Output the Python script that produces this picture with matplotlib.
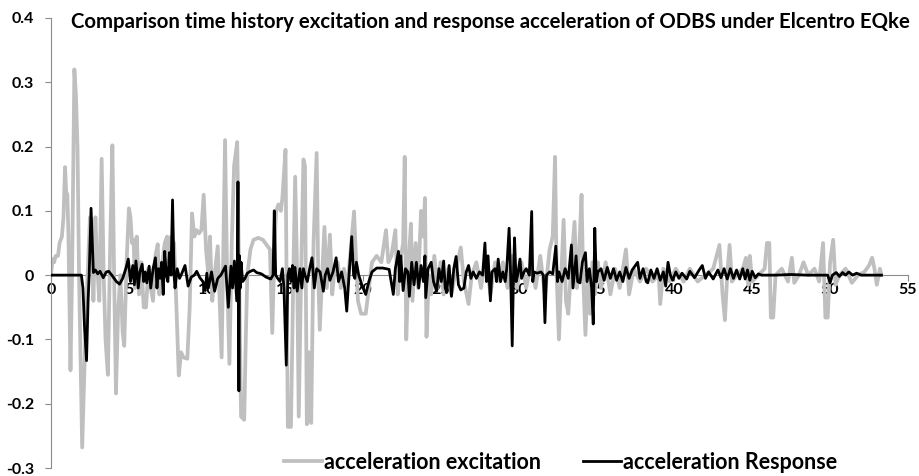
import matplotlib
matplotlib.use("Agg")
import matplotlib.pyplot as plt

# Ground excitation acceleration (g) at the base, El Centro record
exc_t = [0.0, 0.1, 0.2, 0.3, 0.45, 0.55, 0.7, 0.8, 0.9, 0.97, 1.05, 1.12, 1.25, 1.35, 1.5, 1.6, 1.7, 1.8,
         2.0, 2.2, 2.35, 2.5, 2.62, 2.72, 2.85, 2.95, 3.1, 3.25, 3.38, 3.5, 3.65, 3.8, 3.94, 4.05, 4.17,
         4.3, 4.45, 4.6, 4.7, 4.85, 5.0, 5.1, 5.2, 5.3, 5.4, 5.5, 5.65, 5.8, 5.95, 6.1, 6.25, 6.4, 6.55,
         6.7, 6.85, 6.95, 7.1, 7.3, 7.45, 7.55, 7.7, 7.9, 8.05, 8.2, 8.35, 8.5, 8.75, 8.9, 9.05, 9.2,
         9.35, 9.5, 9.65, 9.8, 9.95, 10.1, 10.2, 10.35, 10.5, 10.7, 10.95, 11.17, 11.3, 11.45, 11.6,
         11.75, 11.95, 12.1, 12.2, 12.4, 12.5, 12.6, 12.8, 13.0, 13.3, 13.6, 13.9, 14.05, 14.2, 14.35,
         14.45, 14.6, 14.75, 14.85, 15.05, 15.2, 15.4, 15.55, 15.67, 15.8, 15.9, 16.05, 16.2, 16.3,
         16.42, 16.55, 16.7, 16.85, 17.05, 17.15, 17.25, 17.4, 17.55, 17.7, 17.9, 18.05, 18.2, 18.4,
         18.6, 18.8, 19.0, 19.2, 19.45, 19.55, 19.7, 19.9, 20.2, 20.4, 20.6, 20.9, 21.2, 21.5, 21.65,
         21.85, 22.1, 22.25, 22.4, 22.6, 22.7, 22.8, 22.95, 23.1, 23.2, 23.4, 23.55, 23.75, 23.9, 24.0,
         24.1, 24.25, 24.4, 24.6, 24.8, 25.0, 25.2, 25.5, 25.7, 26.0, 26.3, 26.5, 26.8, 27.0, 27.3,
         27.6, 27.9, 28.2, 28.5, 28.8, 29.0, 29.3, 29.6, 29.9, 30.2, 30.5, 30.8, 31.1, 31.4, 31.7,
         32.0, 32.2, 32.35, 32.45, 32.6, 32.75, 32.9, 33.05, 33.2, 33.4, 33.6, 33.75, 33.9, 34.05,
         34.15, 34.3, 34.45, 34.6, 34.75, 34.9, 35.1, 35.3, 35.6, 35.9, 36.2, 36.5, 36.9, 37.1, 37.4,
         37.8, 38.2, 38.6, 39.0, 39.1, 39.3, 39.7, 40.1, 40.6, 41.0, 41.5, 42.0, 42.5, 42.9, 43.1,
         43.25, 43.4, 43.55, 43.7, 44.0, 44.4, 44.6, 44.75, 44.85, 45.0, 45.4, 45.8, 45.95, 46.1,
         46.2, 46.35, 46.5, 46.9, 47.3, 47.55, 47.7, 48.0, 48.3, 48.6, 49.0, 49.3, 49.55, 49.7, 49.85,
         50.0, 50.2, 50.35, 50.6, 51.0, 51.4, 51.8, 52.2, 52.5, 52.7, 52.85, 53.0, 53.2, 53.3]
exc_a = [0.0, 0.025, 0.02, 0.03, 0.03, 0.05, 0.06, 0.09, 0.168, 0.13, 0.125, 0.06, -0.148, 0.0, 0.32,
         0.28, 0.2, 0.0, -0.268, -0.1, 0.0, 0.09, 0.08, -0.04, 0.09, 0.02, -0.04, 0.181, 0.0, -0.1,
         -0.155, 0.05, 0.202, 0.0, -0.184, -0.06, 0.0, -0.09, -0.11, 0.02, 0.104, 0.09, 0.05, 0.055,
         -0.02, 0.06, -0.03, 0.02, -0.05, -0.05, 0.01, -0.02, -0.04, 0.03, 0.048, -0.03, 0.01, 0.05,
         0.06, 0.02, 0.06, 0.05, -0.05, -0.156, -0.12, -0.128, -0.13, -0.05, 0.096, 0.06, 0.07, 0.065,
         0.07, 0.125, 0.04, 0.0, 0.06, -0.04, 0.0, 0.045, -0.128, 0.21, 0.0, -0.138, 0.05, 0.17, 0.207,
         -0.05, -0.22, -0.225, -0.1, 0.0, 0.04, 0.055, 0.058, 0.055, 0.045, 0.04, -0.09, 0.05, 0.1,
         0.11, 0.1, 0.12, 0.195, -0.236, -0.236, 0.0, 0.153, 0.0, -0.22, 0.0, 0.18, 0.17, -0.232,
         -0.12, -0.23, 0.05, 0.19, 0.0, -0.085, 0.0, 0.075, -0.02, 0.063, -0.03, 0.01, 0.02, -0.02,
         0.01, -0.02, 0.03, 0.099, 0.04, -0.04, -0.06, -0.06, -0.02, 0.02, 0.03, 0.02, 0.07, 0.02,
         0.03, 0.07, -0.03, 0.02, 0.05, 0.184, -0.1, 0.02, 0.08, -0.04, 0.05, -0.02, 0.1, 0.06, 0.12,
         -0.096, 0.0, -0.03, 0.03, -0.02, 0.02, -0.03, 0.01, -0.03, 0.01, 0.043, -0.01, -0.045, 0.0,
         0.02, -0.02, 0.03, -0.03, 0.02, -0.01, 0.02, -0.02, 0.03, -0.02, 0.02, -0.02, 0.02, -0.02,
         0.03, -0.03, 0.04, 0.06, 0.184, 0.0, -0.1, 0.0, 0.086, -0.04, -0.06, 0.02, 0.083, -0.02, 0.04,
         0.125, 0.0, -0.093, 0.0, -0.06, 0.02, -0.03, 0.02, -0.02, 0.02, -0.03, 0.01, -0.02, 0.04,
         -0.03, 0.01, -0.01, 0.01, -0.01, 0.0, -0.045, 0.01, -0.01, 0.01, -0.01, 0.01, -0.01, 0.0,
         0.01, 0.047, -0.03, -0.07, 0.0, 0.047, -0.01, 0.0, 0.01, 0.027, -0.015, 0.03, -0.01, 0.0,
         0.01, 0.05, 0.05, -0.066, -0.066, 0.0, 0.01, -0.01, 0.027, -0.012, 0.0, 0.02, 0.0, 0.01,
         -0.01, 0.05, -0.066, -0.066, 0.02, 0.055, -0.015, 0.0, 0.01, -0.012, 0.0, 0.005, 0.015,
         0.027, 0.01, -0.015, 0.01, 0.0]

# Roof response acceleration (g) of the structure
resp_t = [0.0, 1.95, 2.05, 2.15, 2.28, 2.38, 2.45, 2.57, 2.65, 2.72, 2.85, 3.0, 3.15, 3.35, 3.55, 3.7,
          3.9, 4.2, 4.4, 4.6, 4.8, 4.96, 5.1, 5.25, 5.35, 5.45, 5.6, 5.7, 5.85, 5.95, 6.05, 6.15, 6.3,
          6.4, 6.55, 6.7, 6.8, 6.9, 7.0, 7.1, 7.2, 7.3, 7.4, 7.5, 7.6, 7.7, 7.8, 7.9, 7.96, 8.1, 8.25,
          8.4, 8.6, 8.8, 9.0, 9.2, 9.35, 9.55, 9.75, 9.9, 10.0, 10.1, 10.3, 10.5, 10.7, 10.9, 11.2,
          11.38, 11.55, 11.65, 11.77, 11.92, 11.97, 12.0, 12.03, 12.06, 12.1, 12.15, 12.2, 12.3, 12.45,
          12.6, 12.8, 13.0, 13.2, 13.5, 13.8, 14.1, 14.25, 14.33, 14.42, 14.55, 14.7, 14.85, 14.95,
          15.1, 15.2, 15.3, 15.4, 15.5, 15.6, 15.66, 15.8, 15.98, 16.1, 16.2, 16.3, 16.45, 16.6,
          16.75, 16.9, 17.05, 17.27, 17.48, 17.6, 17.75, 17.9, 18.1, 18.3, 18.45, 18.65, 18.85, 18.98,
          19.1, 19.3, 19.42, 19.5, 19.6, 19.75, 19.95, 20.2, 20.4, 20.6, 20.9, 21.3, 21.7, 21.97,
          22.1, 22.3, 22.38, 22.45, 22.6, 22.75, 22.9, 23.0, 23.15, 23.3, 23.45, 23.6, 23.75, 23.9,
          24.0, 24.05, 24.2, 24.4, 24.55, 24.75, 24.9, 25.05, 25.2, 25.3, 25.4, 25.55, 25.7, 25.85,
          26.0, 26.15, 26.3, 26.5, 26.65, 26.8, 26.95, 27.1, 27.3, 27.5, 27.7, 27.85, 27.95, 28.05,
          28.2, 28.3, 28.5, 28.6, 28.7, 28.85, 29.0, 29.15, 29.25, 29.4, 29.5, 29.6, 29.68, 29.75,
          29.85, 29.95, 30.1, 30.2, 30.36, 30.5, 30.7, 30.85, 30.92, 31.0, 31.2, 31.45, 31.6, 31.7,
          31.8, 32.0, 32.2, 32.4, 32.5, 32.6, 32.8, 33.0, 33.2, 33.4, 33.5, 33.7, 33.8, 33.95, 34.1,
          34.3, 34.4, 34.55, 34.7, 34.8, 34.85, 34.9, 35.0, 35.1, 35.3, 35.5, 35.7, 35.9, 36.1, 36.3,
          36.5, 36.7, 36.9, 37.1, 37.3, 37.5, 37.65, 37.8, 38.0, 38.2, 38.3, 38.5, 38.7, 38.9, 39.1,
          39.3, 39.45, 39.6, 39.75, 39.9, 40.1, 40.3, 40.5, 40.8, 41.0, 41.3, 41.6, 41.8, 42.0, 42.2,
          42.5, 42.8, 43.0, 43.2, 43.4, 43.6, 43.8, 44.0, 44.2, 44.4, 44.55, 44.7, 44.85, 45.0, 45.2,
          45.4, 45.6, 46.5, 47.5, 48.5, 49.5, 49.85, 50.0, 50.15, 50.4, 50.6, 50.8, 51.0, 51.2, 51.45,
          51.7, 52.0, 53.3]
resp_a = [0.0, 0.0, -0.02, -0.08, -0.133, -0.04, 0.0, 0.104, 0.05, 0.004, 0.008, 0.002, 0.006, -0.004,
          0.005, 0.006, 0.0, -0.01, -0.014, -0.005, 0.01, 0.025, -0.01, 0.015, -0.015, 0.022, -0.02,
          0.005, 0.017, -0.01, 0.005, -0.012, 0.014, -0.02, 0.01, 0.027, -0.02, 0.01, -0.005, 0.02,
          -0.03, 0.037, 0.0, -0.01, 0.035, 0.0, 0.117, 0.0, -0.02, 0.01, -0.005, 0.003, 0.015, -0.017,
          -0.003, 0.0, 0.006, -0.004, -0.01, -0.024, 0.003, -0.02, 0.005, -0.025, -0.005, 0.0, 0.014,
          -0.05, 0.014, -0.02, 0.022, -0.04, 0.03, 0.145, -0.05, -0.18, 0.03, -0.02, 0.02, -0.01,
          -0.005, 0.003, 0.006, 0.008, 0.004, 0.002, -0.003, -0.006, 0.0, 0.1, 0.0, -0.005, -0.01,
          0.01, -0.02, -0.14, 0.0, 0.01, -0.01, 0.015, -0.02, 0.012, -0.025, 0.01, -0.02, 0.01, 0.0,
          -0.01, 0.01, 0.027, -0.02, 0.01, 0.005, -0.025, 0.0, 0.01, -0.008, 0.005, 0.027, -0.01,
          0.005, -0.02, -0.056, -0.01, 0.06, 0.0, -0.005, 0.02, 0.0, -0.015, -0.03, -0.01, 0.005,
          0.011, 0.011, 0.009, -0.03, 0.01, 0.037, -0.01, 0.03, -0.024, 0.01, 0.005, -0.033, 0.02,
          -0.015, 0.02, -0.02, 0.015, -0.01, 0.03, -0.035, 0.01, 0.02, -0.01, -0.025, 0.01, -0.01,
          0.022, -0.02, -0.027, 0.015, -0.033, 0.01, 0.029, -0.015, -0.023, -0.02, 0.005, 0.015,
          -0.005, 0.005, -0.005, 0.005, 0.0, 0.05, -0.01, 0.03, -0.04, 0.005, 0.01, -0.01, 0.025,
          -0.01, 0.005, -0.01, 0.01, 0.073, 0.0, -0.11, 0.0, 0.058, -0.01, 0.0, 0.025, -0.005, 0.005,
          0.01, 0.0, 0.099, -0.01, 0.005, 0.003, 0.005, 0.0, -0.074, 0.0, 0.005, 0.002, 0.045, -0.01,
          0.005, -0.01, 0.01, -0.005, 0.047, -0.02, 0.03, -0.01, -0.012, 0.02, 0.035, -0.01, 0.01,
          -0.02, -0.076, 0.0, 0.073, -0.01, 0.005, 0.01, -0.008, 0.012, -0.005, 0.01, -0.008, 0.005,
          -0.01, 0.012, -0.005, 0.008, 0.015, 0.02, -0.005, 0.01, -0.01, -0.012, 0.008, -0.005, 0.01,
          -0.008, 0.005, -0.017, 0.02, 0.0, -0.008, 0.005, -0.005, 0.003, -0.006, 0.006, -0.004,
          0.008, 0.015, -0.005, 0.005, -0.006, 0.008, -0.004, 0.01, -0.006, 0.01, -0.005, 0.008,
          -0.006, 0.01, -0.006, 0.008, -0.008, 0.006, -0.004, 0.002, 0.0, 0.0, 0.001, 0.0, 0.0, 0.0,
          -0.012, 0.0, 0.004, -0.002, 0.004, 0.0, 0.005, 0.0, 0.003, 0.0, 0.0]

x_ticks = [0, 5, 10, 15, 20, 25, 30, 35, 40, 45, 50, 55]
y_ticks = [-0.3, -0.2, -0.1, 0.0, 0.1, 0.2, 0.3, 0.4]
y_tick_labels = ["-0.3", "-0.2", "-0.1", "0", "0.1", "0.2", "0.3", "0.4"]

title = "Comparison time history excitation and response acceleration of ODBS under Elcentro EQke"
label_exc = "acceleration excitation"
label_resp = "acceleration Response"

plt.rcParams["font.family"] = ["Lato", "DejaVu Sans"]

fig = plt.figure(figsize=(9.19, 4.76), dpi=100)
ax = fig.add_axes([0.0555, 0.0168, 0.9325, 0.9454])

ax.plot(exc_t, exc_a, color="#bfbfbf", lw=2.7, solid_joinstyle="round", label=label_exc, zorder=2)
ax.plot(resp_t, resp_a, color="#000000", lw=2.0, solid_joinstyle="round", label=label_resp, zorder=3)

ax.set_xlim(0, 55)
ax.set_ylim(-0.3, 0.4)

for side in ("top", "right"):
    ax.spines[side].set_visible(False)
ax.spines["bottom"].set_position(("data", 0))
ax.spines["bottom"].set_color("#8c8c8c")
ax.spines["left"].set_color("#8c8c8c")
ax.spines["bottom"].set_zorder(1)

ax.set_xticks(x_ticks)
ax.set_xticklabels([str(v) for v in x_ticks])
ax.set_yticks(y_ticks)
ax.set_yticklabels(y_tick_labels)
ax.tick_params(axis="both", direction="out", length=4, color="#8c8c8c", labelsize=11.5)
ax.tick_params(axis="x", pad=2)
ax.tick_params(axis="y", pad=8)
for lbl in ax.get_xticklabels() + ax.get_yticklabels():
    lbl.set_fontweight("bold")

fig.text(490 / 919, 1 - 22 / 476, title, ha="center", va="center",
         fontsize=14.7, fontweight="bold")

leg = ax.legend(loc="center", bbox_to_anchor=(0.5945, 0.013), ncol=2, frameon=False,
                handlelength=1.75, handletextpad=0.1, columnspacing=1.95,
                prop={"size": 15.5, "weight": "bold"})

fig.savefig("out.png", dpi=100)
